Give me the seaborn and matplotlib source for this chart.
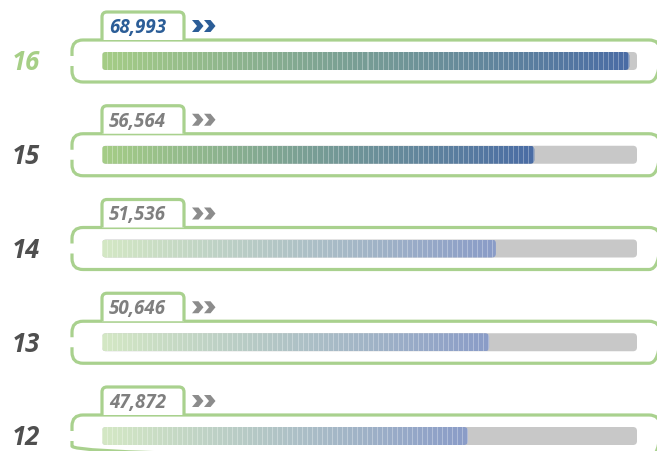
import matplotlib
matplotlib.use("Agg")
import matplotlib.pyplot as plt
import numpy as np
import pandas as pd
import seaborn as sns
from matplotlib.patches import FancyBboxPatch, PathPatch
from matplotlib.path import Path
from matplotlib.colors import to_rgb

# data
rows = ["16", "15", "14", "13", "12"]
values = [68993, 56564, 51536, 50646, 47872]
value_labels = ["68,993", "56,564", "51,536", "50,646", "47,872"]
highlight = [True, True, False, False, False]
track_max = 70000

df = pd.DataFrame({"row": rows, "value": values, "track": [track_max] * len(rows)})

sns.set_theme(style="white")
plt.rcParams["font.family"] = ["Open Sans", "DejaVu Sans"]

W, H = 657, 452
fig = plt.figure(figsize=(W / 100, H / 100), dpi=100)
fig.patch.set_facecolor("white")

# pixel layout
track_left, track_right = 102, 637
row0, row_step = 62, 93.75
sx = track_max / (track_right - track_left)   # value units per pixel
sy = 1 / row_step                             # row units per pixel

green = "#a9d18e"

# decoration axes in pixel space
deco = fig.add_axes([0, 0, 1, 1])
deco.set_xlim(0, W)
deco.set_ylim(H, 0)
deco.axis("off")

ax = fig.add_axes([0, 0, 1, 1])
ax.patch.set_alpha(0)
sns.barplot(data=df, x="track", y="row", orient="h", color="#c8c8c8",
            width=18 * sy, errorbar=None, ax=ax)
sns.barplot(data=df, x="value", y="row", orient="h", color="#a5cd86",
            width=18 * sy, errorbar=None, ax=ax)
ax.set_xlim(-track_left * sx, (W - track_left) * sx)
ax.set_ylim((H - row0) * sy, -row0 * sy)
ax.axis("off")

n = len(rows)
track_patches = list(ax.patches[:n])
value_patches = list(ax.patches[n:2 * n])
radius = 4 * sx
asp = sy / sx

for p in track_patches:
    x, y, w, h = p.get_x(), p.get_y(), p.get_width(), p.get_height()
    p.remove()
    ax.add_patch(FancyBboxPatch((x, y), w, h, boxstyle=f"round,pad=0,rounding_size={radius}",
                                mutation_aspect=asp, fc="#c8c8c8", ec="none", zorder=1))

for i, p in enumerate(value_patches):
    x, y, w, h = p.get_x(), p.get_y(), p.get_width(), p.get_height()
    p.remove()
    if highlight[i]:
        c0, c1 = np.array(to_rgb("#a5cd86")), np.array(to_rgb("#4a6ca5"))
    else:
        c0, c1 = np.array(to_rgb("#d4e8c4")), np.array(to_rgb("#8a9cc8"))
    npx = max(int(round(w / sx)), 2)
    t = np.linspace(0, 1, npx)[:, None]
    cols = c0 * (1 - t) + c1 * t
    stripe = (np.arange(npx) % 5) == 0
    cols[stripe] = cols[stripe] * 0.7 + 0.3
    img = cols[None, :, :]
    clip = FancyBboxPatch((x, y), w, h, boxstyle=f"round,pad=0,rounding_size={radius}",
                          mutation_aspect=asp, fc="none", ec="none", transform=ax.transData)
    ax.add_patch(clip)
    im = ax.imshow(img, extent=(x, x + w, y + h, y), aspect="auto",
                   interpolation="nearest", zorder=2)
    im.set_clip_path(clip)

ax.set_xlim(-track_left * sx, (W - track_left) * sx)
ax.set_ylim((H - row0) * sy, -row0 * sy)


def frame_path(cy):
    x0, x1 = 72, 660
    t, b = cy - 21, cy + 21
    r = 11
    g = 5
    verts = [(x0, cy - g), (x0, t + r), (x0, t), (x0 + r, t), (x1 - r, t), (x1, t), (x1, t + r),
             (x1, b - r), (x1, b), (x1 - r, b), (x0 + r, b), (x0, b), (x0, b - r), (x0, cy + g)]
    codes = [Path.MOVETO, Path.LINETO, Path.CURVE3, Path.CURVE3, Path.LINETO, Path.CURVE3, Path.CURVE3,
             Path.LINETO, Path.CURVE3, Path.CURVE3, Path.LINETO, Path.CURVE3, Path.CURVE3, Path.LINETO]
    return Path(verts, codes)


def tab_path(cy):
    l, r_, top, bot = 102, 184, cy - 49, cy - 21
    r = 5
    verts = [(l, bot), (l, top + r), (l, top), (l + r, top), (r_ - r, top), (r_, top), (r_, top + r), (r_, bot)]
    codes = [Path.MOVETO, Path.LINETO, Path.CURVE3, Path.CURVE3, Path.LINETO, Path.CURVE3, Path.CURVE3, Path.LINETO]
    return Path(verts, codes)


def chevron(x0, cy, col):
    hh, ww, th = 6, 11.5, 6.5
    verts = [(x0, cy - hh), (x0 + th, cy - hh), (x0 + ww, cy), (x0 + th, cy + hh),
             (x0, cy + hh), (x0 + ww - th, cy), (x0, cy - hh)]
    deco.add_patch(PathPatch(Path(verts, closed=True), fc=col, ec="none"))


for i, lab in enumerate(rows):
    cy = row0 + i * row_step
    deco.add_patch(PathPatch(frame_path(cy), fc="none", ec=green, lw=2.3, capstyle="butt"))
    deco.add_patch(PathPatch(tab_path(cy), fc="white", ec=green, lw=2.3, capstyle="butt"))
    vcol = "#2b5d97" if i == 0 else "#7f7f7f"
    deco.text(109, cy - 34, value_labels[i], fontsize=13.5, fontweight="bold", fontstyle="italic",
              color=vcol, ha="left", va="center")
    ccol = "#2b5d97" if i == 0 else "#8c8c8c"
    chevron(192, cy - 35, ccol)
    chevron(204, cy - 35, ccol)
    lcol = "#a6cf86" if i == 0 else "#4f4f4f"
    deco.text(12, cy + 1, " ".join(lab) if False else lab, fontsize=18.5, fontweight="bold",
              fontstyle="italic", color=lcol, ha="left", va="center")

fig.savefig("out.png", dpi=100, facecolor="white")
